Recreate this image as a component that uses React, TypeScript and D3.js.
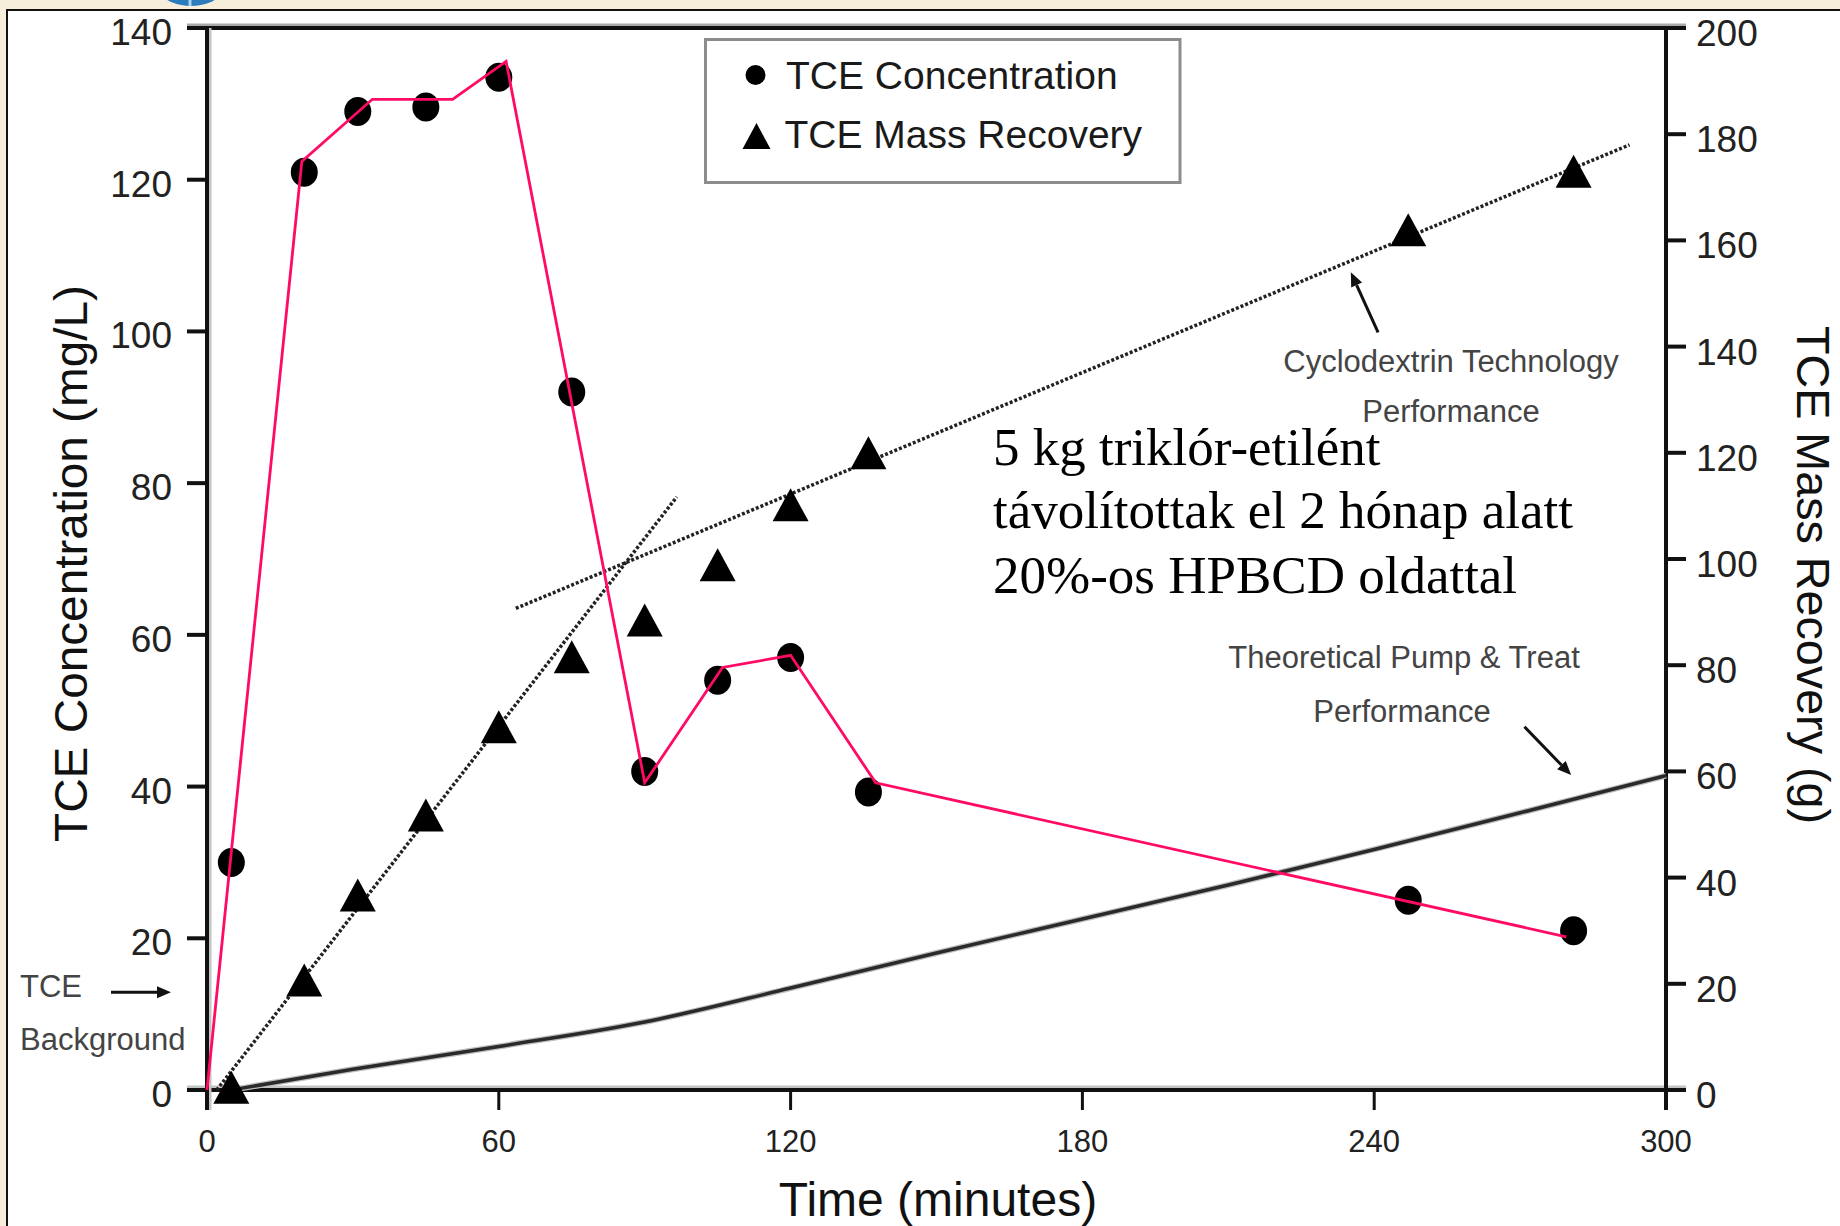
import React from 'react';
import * as d3 from 'd3';

// sampling times (minutes)
const times = [5, 20, 31, 45, 60, 75, 90, 105, 120, 136, 247, 281];
// TCE concentration (mg/L), left axis
const concentration = [30, 121, 129, 129.6, 133.5, 92, 42, 54, 57, 39.3, 25, 21];
// TCE mass recovery (g), right axis
const massRecovery = [0.5, 20.7, 36.7, 51.8, 68.4, 81.6, 88.5, 98.9, 110.2, 120, 162, 173];

// pink guide line over the concentration points
const trendTimes = [0, 19.5, 34, 50.5, 61.5, 90, 106, 120, 137.5, 279.5];
const trendConc = [0, 122.4, 130.6, 130.6, 135.6, 40.5, 55.7, 57.3, 40.5, 20.2];

// dotted fits (cyclodextrin technology)
const steepTimes = [2, 96.6];
const steepMass = [0, 111.7];
const shallowTimes = [63.5, 292.5];
const shallowMass = [90.7, 178];

// theoretical pump & treat curve
const pumpTimes = [5, 30, 60, 90, 120, 150, 180, 210, 240, 270, 300];
const pumpMass = [0, 3.9, 8.2, 12.8, 19.2, 25.8, 32.2, 38.6, 45.3, 52.2, 59.2];

const xTicks = [0, 60, 120, 180, 240, 300];
const concTicks = [0, 20, 40, 60, 80, 100, 120, 140];
const massTicks = [0, 20, 40, 60, 80, 100, 120, 140, 160, 180, 200];

const W = 1840;
const H = 1226;
const sans = '"Liberation Sans", Arial, Helvetica, sans-serif';
const serif = '"Liberation Serif", "Times New Roman", serif';

const x = d3.scaleLinear().domain([0, 300]).range([207, 1666]);
const yL = d3.scaleLinear().domain([0, 140]).range([1090, 28]);
const yR = d3.scaleLinear().domain([0, 200]).range([1090, 28]);

const zip = (a: number[], b: number[]) => a.map((v, i) => [v, b[i]] as [number, number]);

const lineL = d3.line<[number, number]>().x(d => x(d[0])).y(d => yL(d[1]));
const lineR = d3.line<[number, number]>().x(d => x(d[0])).y(d => yR(d[1]));
const curveR = d3.line<[number, number]>().x(d => x(d[0])).y(d => yR(d[1])).curve(d3.curveMonotoneX);

// arrow with filled head, coordinates in pixels
const Arrow = ({ x1, y1, x2, y2 }: { x1: number; y1: number; x2: number; y2: number }) => {
  const a = Math.atan2(y2 - y1, x2 - x1);
  const len = 14, half = 6;
  const bx = x2 - Math.cos(a) * len, by = y2 - Math.sin(a) * len;
  const p1 = [bx + Math.sin(a) * half, by - Math.cos(a) * half];
  const p2 = [bx - Math.sin(a) * half, by + Math.cos(a) * half];
  return (
    <g>
      <line x1={x1} y1={y1} x2={bx} y2={by} stroke="#111" strokeWidth={3} />
      <polygon points={`${x2},${y2} ${p1[0]},${p1[1]} ${p2[0]},${p2[1]}`} fill="#111" />
    </g>
  );
};

const tri = (cx: number, cy: number, hw: number, h: number) =>
  `M${cx},${cy - h / 2}L${cx + hw},${cy + h / 2}L${cx - hw},${cy + h / 2}Z`;

export default function App() {
  const x0 = x(0), x1 = x(300), yTop = yL(140), yBot = yL(0);
  const pumpPath = curveR(zip(pumpTimes, pumpMass)) || '';

  return (
    <div>
      <style>{`body{margin:0;} svg{display:block;}`}</style>
      <svg width={W} height={H} viewBox={`0 0 ${W} ${H}`}>
        {/* slide background + logo stub */}
        <rect x={0} y={0} width={W} height={H} fill="#f6eedb" />
        <circle cx={191} cy={-44} r={50} fill="#2b7bbd" />
        <line x1={190} y1={-2} x2={190} y2={6} stroke="#a8d4f2" strokeWidth={3} />
        <rect x={7} y={10} width={W} height={H} fill="#fff" stroke="#111" strokeWidth={2} />

        {/* frame and axes */}
        <line x1={187} y1={yTop - 3} x2={x1 + 20} y2={yTop - 3} stroke="#a9a9a9" strokeWidth={3} />
        <line x1={187} y1={yTop} x2={x1 + 20} y2={yTop} stroke="#111" strokeWidth={4} />
        <line x1={187} y1={yBot - 3} x2={x1 + 20} y2={yBot - 3} stroke="#c4c4c4" strokeWidth={3} />
        <line x1={187} y1={yBot} x2={x1 + 20} y2={yBot} stroke="#111" strokeWidth={4} />
        <line x1={x0 + 3} y1={yTop} x2={x0 + 3} y2={yBot + 20} stroke="#c4c4c4" strokeWidth={3} />
        <line x1={x0} y1={yTop} x2={x0} y2={yBot + 20} stroke="#111" strokeWidth={4} />
        <line x1={x1} y1={yTop} x2={x1} y2={yBot + 20} stroke="#111" strokeWidth={4} />

        {concTicks.map(t => (
          <g key={'cl' + t}>
            <line x1={187} x2={x0} y1={yL(t)} y2={yL(t)} stroke="#111" strokeWidth={4} />
            <text x={172} y={yL(t) + 17} textAnchor="end" fontFamily={sans} fontSize={37} fill="#222">{t}</text>
          </g>
        ))}
        {massTicks.map(t => (
          <g key={'mr' + t}>
            <line x1={x1} x2={x1 + 20} y1={yR(t)} y2={yR(t)} stroke="#111" strokeWidth={4} />
            <text x={1696} y={yR(t) + 18} textAnchor="start" fontFamily={sans} fontSize={37} fill="#222">{t}</text>
          </g>
        ))}
        {xTicks.map(t => (
          <g key={'x' + t}>
            <line x1={x(t)} x2={x(t)} y1={yBot} y2={yBot + 20} stroke="#111" strokeWidth={3} />
            <text x={x(t)} y={1152} textAnchor="middle" fontFamily={sans} fontSize={31} fill="#222">{t}</text>
          </g>
        ))}

        {/* axis titles */}
        <text transform="translate(87,563.5) rotate(-90)" textAnchor="middle" fontFamily={sans} fontSize={47}
          fill="#111" textLength={557} lengthAdjust="spacingAndGlyphs">TCE Concentration (mg/L)</text>
        <text transform="translate(1797,575) rotate(90)" textAnchor="middle" fontFamily={sans} fontSize={47}
          fill="#111" textLength={498} lengthAdjust="spacingAndGlyphs">TCE Mass Recovery (g)</text>
        <text x={938} y={1216} textAnchor="middle" fontFamily={sans} fontSize={48} fill="#111">Time (minutes)</text>

        {/* theoretical pump & treat */}
        <path d={pumpPath} fill="none" stroke="#bdbdbd" strokeWidth={6} />
        <path d={pumpPath} fill="none" stroke="#2a2a2a" strokeWidth={3.5} />

        {/* cyclodextrin dotted fits */}
        <path d={lineR(zip(steepTimes, steepMass)) || ''} fill="none" stroke="#222" strokeWidth={3.5} strokeDasharray="3 2" />
        <path d={lineR(zip(shallowTimes, shallowMass)) || ''} fill="none" stroke="#222" strokeWidth={3.5} strokeDasharray="3 2" />

        {/* concentration markers */}
        {times.map((t, i) => (
          <ellipse key={'c' + i} cx={x(t)} cy={yL(concentration[i])} rx={13.5} ry={14.5} fill="#000" />
        ))}
        {/* pink guide line */}
        <path d={lineL(zip(trendTimes, trendConc)) || ''} fill="none" stroke="#ff0a64" strokeWidth={2.8} strokeLinejoin="miter" />

        {/* mass recovery markers */}
        {times.map((t, i) => (
          <path key={'m' + i} d={tri(x(t), yR(massRecovery[i]), 18, 33)} fill="#000" />
        ))}

        {/* legend */}
        <rect x={705.5} y={39.5} width={474.5} height={143} fill="#fff" stroke="#8c8c8c" strokeWidth={3} />
        <circle cx={755.5} cy={75} r={10} fill="#000" />
        <text x={786} y={89} fontFamily={sans} fontSize={39} fill="#1a1a1a">TCE Concentration</text>
        <path d={tri(756.5, 136, 14, 26)} fill="#000" />
        <text x={784.5} y={148} fontFamily={sans} fontSize={39} fill="#1a1a1a">TCE Mass Recovery</text>

        {/* annotations */}
        <text x={1451} y={372} textAnchor="middle" fontFamily={sans} fontSize={31} fill="#444">Cyclodextrin Technology</text>
        <text x={1451} y={422} textAnchor="middle" fontFamily={sans} fontSize={31} fill="#444">Performance</text>
        <Arrow x1={x(240.8)} y1={yR(142.7)} x2={x(235.2)} y2={yR(154)} />

        <text x={1404} y={668} textAnchor="middle" fontFamily={sans} fontSize={31} fill="#444">Theoretical Pump &amp; Treat</text>
        <text x={1402} y={722} textAnchor="middle" fontFamily={sans} fontSize={31} fill="#444">Performance</text>
        <Arrow x1={x(270.9)} y1={yR(68.4)} x2={x(280.5)} y2={yR(59.3)} />

        <text x={20} y={997} fontFamily={sans} fontSize={31} fill="#444">TCE</text>
        <text x={20} y={1050} fontFamily={sans} fontSize={31} fill="#444">Background</text>
        <Arrow x1={111} y1={yL(12.9)} x2={171} y2={yL(12.9)} />

        <g fontFamily={serif} fontSize={53} fill="#000">
          <text x={993} y={465}>5 kg triklór-etilént</text>
          <text x={993} y={528}>távolítottak el 2 hónap alatt</text>
          <text x={993} y={593}>20%-os HPBCD oldattal</text>
        </g>
      </svg>
    </div>
  );
}
